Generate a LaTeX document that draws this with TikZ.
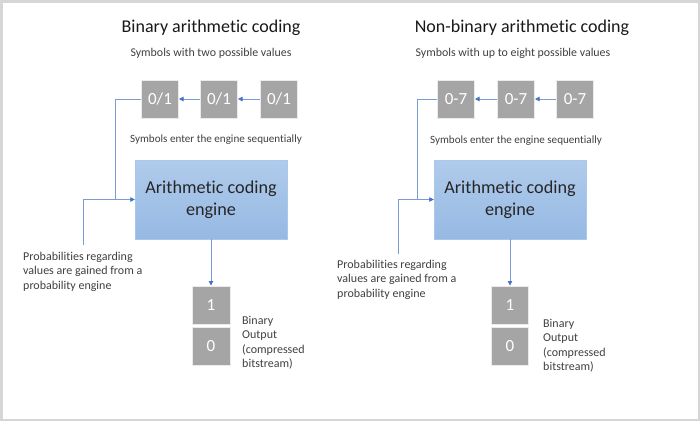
\documentclass[tikz,border=0pt]{standalone}
\usepackage{fontspec}
\setmainfont{Carlito}[Ligatures=NoCommon]
\usetikzlibrary{arrows.meta}
\definecolor{lineblue}{HTML}{4472C4}
\definecolor{linelight}{HTML}{7A9BD6}
\definecolor{boxgray}{HTML}{A5A5A5}
\definecolor{txt}{HTML}{404040}
\definecolor{engtop}{HTML}{B0CBEB}
\definecolor{engbot}{HTML}{96B9E3}
\definecolor{engborder}{HTML}{A9C8EB}
\definecolor{framegray}{HTML}{D6D6D6}
\begin{document}
\begin{tikzpicture}[x=1pt,y=-1pt,
 sym/.style={draw=white!92!black, line width=1pt, fill=boxgray, text=white, minimum width=37pt, minimum height=38pt, inner sep=0pt, font=\fontsize{17}{17}\selectfont},
 eng/.style={draw=engborder, top color=engtop, bottom color=engbot, minimum width=152pt, minimum height=79pt, align=center, font=\fontsize{18.2}{22}\selectfont, text=black!85},
 conn/.style={draw=linelight, line width=0.8pt},
 arr/.style={conn, -{Triangle[length=4.5pt,width=4.5pt,color=lineblue]}},
 small/.style={text=txt, font=\fontsize{12}{14.5}\selectfont, align=left, inner sep=0pt},
 sub/.style={text=txt, font=\fontsize{11.9}{13}\selectfont, inner sep=0pt},
 seqt/.style={text=txt, font=\fontsize{11.1}{13}\selectfont, inner sep=0pt},
 title/.style={text=black!90, font=\fontsize{18}{18}\selectfont, inner sep=0pt}
]
\useasboundingbox (0,0) rectangle (700,421);
\fill[white] (0,0) rectangle (700,421);
\draw[framegray, line width=2.5pt] (1.25,1.25) rectangle (698.75,419.75);

% ---------- left panel ----------
\node[title] (t1) at (211,28) {Binary arithmetic coding};
\node[sub] (st1) at (211,53) {Symbols with two possible values};
\node[sym] (a1) at (160,99) {0/1};
\node[sym] (a2) at (219,99) {0/1};
\node[sym] (a3) at (279,99) {0/1};
\node[seqt] (q1) at (216,140) {Symbols enter the engine sequentially};
\node[eng] (e1) at (211,199.5) {Arithmetic coding\\engine};
\node[small, anchor=west] (p1) at (23,271.5) {Probabilities regarding\\values are gained from a\\probability engine};
\node[sym, minimum width=38pt] (o11) at (211,305) {1};
\node[sym, minimum width=38pt] (o10) at (211,346) {0};
\node[small, anchor=west] (b1) at (242,342.5) {Binary\\Output\\(compressed\\bitstream)};
\coordinate (c1) at (115,199.5);
\coordinate (d1) at (83,245);
\draw[arr] (a3) -- (a2);
\draw[arr] (a2) -- (a1);
\draw[arr] (a1.west) -| (c1) -- (e1.west);
\draw[conn] (d1) |- (c1);
\draw[arr] (e1.south) -- (o11.north);

% ---------- right panel ----------
\node[title] (t2) at (522,28) {Non-binary arithmetic coding};
\node[sub] (st2) at (513,53) {Symbols with up to eight possible values};
\node[sym] (b21) at (456,99) {0-7};
\node[sym] (b22) at (516,99) {0-7};
\node[sym] (b23) at (575,99) {0-7};
\node[seqt] (q2) at (516,141) {Symbols enter the engine sequentially};
\node[eng] (e2) at (510,199.5) {Arithmetic coding\\engine};
\node[small, anchor=west] (p2) at (337,279.5) {Probabilities regarding\\values are gained from a\\probability engine};
\node[sym] (o21) at (510,305) {1};
\node[sym] (o20) at (510,346) {0};
\node[small, anchor=west] (b2) at (543,345.5) {Binary\\Output\\(compressed\\bitstream)};
\coordinate (c2) at (417,199.5);
\coordinate (d2) at (398,254);
\draw[arr] (b23) -- (b22);
\draw[arr] (b22) -- (b21);
\draw[arr] (b21.west) -| (c2) -- (e2.west);
\draw[conn] (d2) |- (c2);
\draw[arr] (e2.south) -- (o21.north);
\end{tikzpicture}
\end{document}
